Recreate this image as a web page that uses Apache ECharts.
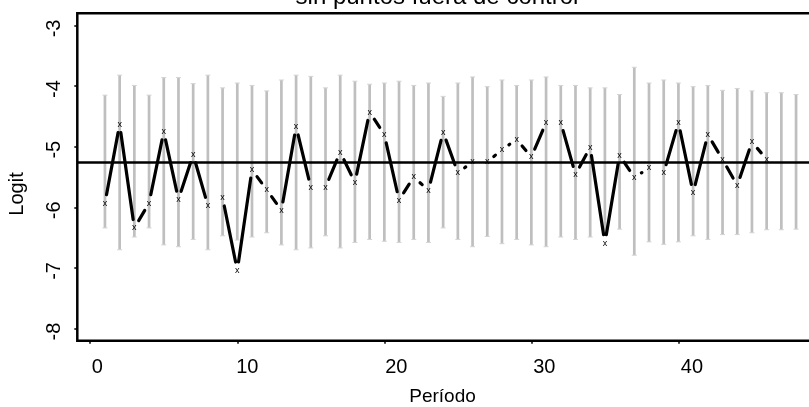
<!DOCTYPE html>
<html><head><meta charset="utf-8">
<script src="https://cdn.jsdelivr.net/npm/echarts@6/dist/echarts.min.js"></script>
<style>html,body{margin:0;padding:0;background:#fff}#c{width:809px;height:407px}</style>
</head><body><div id="c"></div>
<script>
// ---- data ----
const periods = [1,2,3,4,5,6,7,8,9,10,11,12,13,14,15,16,17,18,19,20,21,22,23,24,25,26,27,28,29,30,31,32,33,34,35,36,37,38,39,40,41,42,43,44,45,46];
const logitValues = [-5.93,-4.63,-6.34,-5.93,-4.75,-5.87,-5.13,-5.97,-5.84,-7.04,-5.38,-5.71,-6.05,-4.67,-5.67,-5.67,-5.09,-5.59,-4.43,-4.80,-5.88,-5.50,-5.72,-4.76,-5.43,-5.25,-5.25,-5.05,-4.88,-5.17,-4.60,-4.60,-5.46,-5.01,-6.59,-5.14,-5.51,-5.35,-5.43,-4.60,-5.76,-4.80,-5.21,-5.64,-4.92,-5.21];
const limitPeriods = [1,2,3,4,5,6,7,8,9,10,11,12,13,14,15,16,17,18,19,20,21,22,23,24,25,26,27,28,29,30,31,32,33,34,35,36,37,38,39,40,41,42,43,44,45,46,47,48];
const upperLimits = [-4.15,-3.82,-3.99,-4.15,-3.86,-3.86,-3.96,-3.82,-4.03,-3.95,-3.99,-4.08,-3.90,-3.82,-3.84,-4.03,-3.82,-3.92,-3.97,-3.95,-3.92,-3.99,-3.95,-4.17,-3.95,-3.85,-4.01,-3.90,-3.99,-3.90,-3.85,-3.99,-3.99,-4.03,-4.03,-4.14,-3.69,-3.95,-3.90,-3.95,-4.01,-3.99,-4.07,-4.04,-4.08,-4.11,-4.11,-4.14];
const lowerLimits = [-6.34,-6.70,-6.49,-6.34,-6.62,-6.65,-6.53,-6.70,-6.47,-6.54,-6.49,-6.42,-6.62,-6.70,-6.67,-6.47,-6.67,-6.58,-6.53,-6.56,-6.58,-6.53,-6.58,-6.34,-6.53,-6.65,-6.48,-6.60,-6.53,-6.62,-6.65,-6.49,-6.53,-6.49,-6.45,-6.36,-6.79,-6.57,-6.61,-6.57,-6.47,-6.53,-6.45,-6.45,-6.42,-6.37,-6.37,-6.36];
const centerLine = -5.26;
const xTickValues = [0,10,20,30,40];
const yTickValues = [-8,-7,-6,-5,-4,-3];
const titleText = 'sin puntos fuera de control';
const xName = 'Período';
const yName = 'Logit';

// ---- chart ----
const FONT = '"Liberation Sans", Arial, Helvetica, sans-serif';
const GAP = 8.5;
const chart = echarts.init(document.getElementById('c'), null, {renderer: 'canvas'});

const pointData = periods.map((p, i) => [p, logitValues[i]]);
const segData = [];
for (let i = 0; i < periods.length - 1; i++) {
  segData.push([periods[i], logitValues[i], periods[i + 1], logitValues[i + 1]]);
}
const limitData = limitPeriods.map((p, i) => [p, lowerLimits[i], upperLimits[i]]);

const xLabelShift = {0: 7, 10: 10, 20: 12, 30: 13, 40: 13.5};
const xRich = {};
xTickValues.forEach(v => {
  xRich['t' + v] = {fontSize: 20, fontFamily: FONT, color: '#000', padding: [0, 0, 0, 2 * xLabelShift[v]]};
});
const yRich = {u: {fontSize: 20, fontFamily: FONT, color: '#000', padding: [0, 6, 0, 0]}};

const option = {
  animation: false,
  backgroundColor: '#fff',
  grid: {left: 77.3, top: 13.3, bottom: 66.3, right: -14.7, show: true,
         outerBoundsMode: 'none', containLabel: false,
         borderColor: '#000', borderWidth: 2.5, backgroundColor: 'transparent'},
  xAxis: {
    type: 'value', min: -0.88, max: 49.88, position: 'bottom',
    splitLine: {show: false}, axisLine: {show: false, onZero: false},
    axisTick: {show: true, customValues: xTickValues, length: 3, lineStyle: {color: '#000', width: 1.5}},
    axisLabel: {customValues: xTickValues, margin: 17, color: '#000', fontSize: 20, fontFamily: FONT,
                formatter: v => '{t' + v + '|' + v + '}', rich: xRich}
  },
  yAxis: {
    type: 'value', min: -8.2, max: -2.8, position: 'left',
    splitLine: {show: false}, axisLine: {show: false, onZero: false},
    axisTick: {show: true, customValues: yTickValues, length: 3, lineStyle: {color: '#000', width: 1.5}},
    axisLabel: {customValues: yTickValues, rotate: 90, margin: 13, color: '#000', fontSize: 20, fontFamily: FONT,
                formatter: v => '{u|' + v + '}', rich: yRich}
  },
  graphic: [
    {type: 'text', x: 437, y: -2.5, silent: true,
     style: {text: titleText, font: '24px ' + FONT, fill: '#000', align: 'center', verticalAlign: 'middle'}},
    {type: 'text', x: 442.5, y: 397, silent: true,
     style: {text: xName, font: '19px ' + FONT, fill: '#000', align: 'center', verticalAlign: 'middle'}},
    {type: 'text', x: 17.5, y: 194, rotation: Math.PI / 2, silent: true,
     style: {text: yName, font: '20px ' + FONT, fill: '#000', align: 'center', verticalAlign: 'middle'}}
  ],
  series: [
    {
      type: 'custom', name: 'limits', z: 1, silent: true,
      encode: {x: 0, y: [1, 2]},
      data: limitData,
      renderItem: function (params, api) {
        const lo = api.coord([api.value(0), api.value(1)]);
        const hi = api.coord([api.value(0), api.value(2)]);
        return {type: 'group', children: [
          {type: 'line', shape: {x1: lo[0], y1: lo[1], x2: hi[0], y2: hi[1]}, style: {stroke: '#bfbfbf', lineWidth: 2.7}},
          {type: 'line', shape: {x1: lo[0] - 2.5, y1: lo[1], x2: lo[0] + 2.5, y2: lo[1]}, style: {stroke: '#d4d4d4', lineWidth: 1}},
          {type: 'line', shape: {x1: hi[0] - 2.5, y1: hi[1], x2: hi[0] + 2.5, y2: hi[1]}, style: {stroke: '#d4d4d4', lineWidth: 1}}
        ]};
      }
    },
    {
      type: 'line', name: 'center', z: 3, silent: true, data: [],
      markLine: {symbol: 'none', silent: true, animation: false, label: {show: false},
                 lineStyle: {color: '#000', width: 2.5, type: 'solid'},
                 data: [{yAxis: centerLine}]}
    },
    {
      type: 'custom', name: 'segments', z: 4, silent: true,
      encode: {x: [0, 2], y: [1, 3]},
      data: segData,
      renderItem: function (params, api) {
        const a = api.coord([api.value(0), api.value(1)]);
        const b = api.coord([api.value(2), api.value(3)]);
        const dx = b[0] - a[0], dy = b[1] - a[1];
        const d = Math.hypot(dx, dy);
        if (d <= 2 * GAP) return {type: 'group', children: []};
        const ux = dx / d, uy = dy / d;
        return {type: 'line',
                shape: {x1: a[0] + ux * GAP, y1: a[1] + uy * GAP, x2: b[0] - ux * GAP, y2: b[1] - uy * GAP},
                style: {stroke: '#000', lineWidth: 3.2, lineCap: 'round'}};
      }
    },
    {
      type: 'custom', name: 'points', z: 5, silent: true,
      encode: {x: 0, y: 1},
      data: pointData,
      renderItem: function (params, api) {
        const p = api.coord([api.value(0), api.value(1)]);
        return {type: 'text', x: p[0], y: p[1],
                style: {text: 'x', fill: '#000', font: '9px ' + FONT, align: 'center', verticalAlign: 'middle'}};
      }
    }
  ]
};
chart.setOption(option);
</script>
</body></html>
